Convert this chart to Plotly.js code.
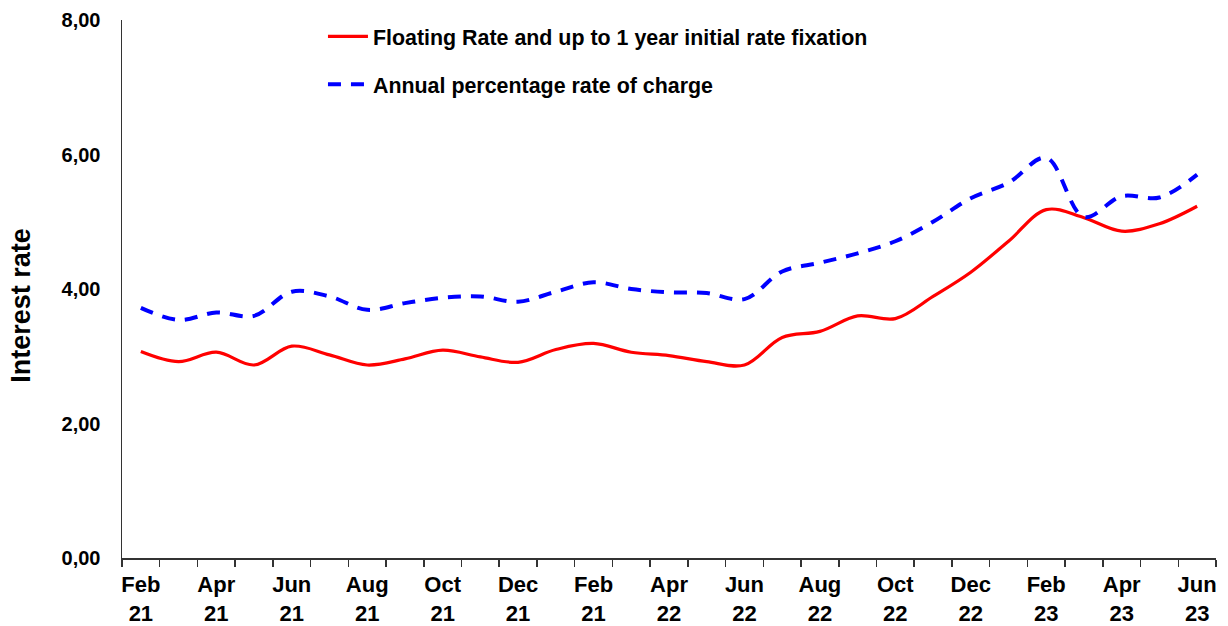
<!DOCTYPE html>
<html>
<head>
<meta charset="utf-8">
<script src="https://cdn.plot.ly/plotly-3.0.1.min.js"></script>
<style>html,body{margin:0;padding:0;background:#fff;}#chart{width:1228px;height:626px;}</style>
</head>
<body>
<div id="chart"></div>
<script>
const months = ["Feb 21","Mar 21","Apr 21","May 21","Jun 21","Jul 21","Aug 21","Sep 21","Oct 21","Nov 21","Dec 21","Jan 22","Feb 22","Mar 22","Apr 22","May 22","Jun 22","Jul 22","Aug 22","Sep 22","Oct 22","Nov 22","Dec 22","Jan 23","Feb 23","Mar 23","Apr 23","May 23","Jun 23"];
const floatingRate = [3.07,2.92,3.06,2.87,3.15,3.02,2.87,2.96,3.09,2.99,2.91,3.10,3.19,3.06,3.01,2.92,2.87,3.28,3.37,3.60,3.56,3.89,4.25,4.71,5.18,5.06,4.86,4.97,5.23];
const aprc = [3.72,3.54,3.65,3.60,3.96,3.89,3.69,3.79,3.87,3.89,3.81,3.96,4.10,4.00,3.95,3.94,3.85,4.26,4.39,4.53,4.71,5.00,5.35,5.58,5.95,5.07,5.38,5.36,5.70];
const tickLabels = ["Feb<br>21","Apr<br>21","Jun<br>21","Aug<br>21","Oct<br>21","Dec<br>21","Feb<br>21","Apr<br>22","Jun<br>22","Aug<br>22","Oct<br>22","Dec<br>22","Feb<br>23","Apr<br>23","Jun<br>23"];
const yTicks = [0,2,4,6,8];
const yTickLabels = ["0,00","2,00","4,00","6,00","8,00"];

const xIdx = months.map((m,i)=>i);
const tickVals = tickLabels.map((t,i)=>i*2);
const FONT = "Liberation Sans, Arial, sans-serif";

const traces = [
  {x:xIdx, y:floatingRate, type:"scatter", mode:"lines", name:"Floating Rate and up to 1 year initial rate fixation",
   line:{color:"#FF0000", width:3.2, shape:"spline", smoothing:1}, legendgroup:"a", hoverinfo:"y"},
  {x:xIdx, y:aprc, type:"scatter", mode:"lines", name:"Annual percentage rate of charge",
   line:{color:"#0000FF", width:4, dash:"13px,10px", shape:"spline", smoothing:1}, legendgroup:"b", hoverinfo:"y"}
];

const layout = {
  width:1228, height:626,
  margin:{l:122, r:12, t:20, b:68},
  paper_bgcolor:"#fff", plot_bgcolor:"#fff",
  font:{family:FONT, color:"#000"},
  showlegend:true,
  legend:{x:0.1837, y:1.0075, xanchor:"left", yanchor:"top", bgcolor:"rgba(0,0,0,0)",
          font:{family:FONT, size:21.4, color:"#000", weight:"bold"}, tracegroupgap:17, itemwidth:40},
  xaxis:{range:[-0.5,28.5], tickmode:"array", tickvals:tickVals, ticktext:tickLabels,
         ticks:"", showgrid:false, zeroline:false, showline:true, linecolor:"#333", linewidth:1.5,
         tickfont:{family:FONT, size:22, color:"#000", weight:"bold"}, ticklabelstandoff:6,
         minor:{ticks:"outside", tick0:-0.5, dtick:1, ticklen:7, tickcolor:"#333", tickwidth:1.5, showgrid:false}},
  yaxis:{range:[0,8], tickmode:"array", tickvals:yTicks, ticktext:yTickLabels,
         ticks:"", showgrid:false, zeroline:false, showline:true, linecolor:"#333", linewidth:1.5,
         tickfont:{family:FONT, size:20, color:"#000", weight:"bold"}, ticklabelstandoff:16},
  annotations:[{text:"Interest rate", textangle:-90, xref:"paper", yref:"paper",
     x:-0.092, y:(558-305.7)/537.5, xanchor:"center", yanchor:"middle", showarrow:false,
     font:{family:FONT, size:27, color:"#000", weight:"bold"}}]
};

Plotly.newPlot("chart", traces, layout, {displayModeBar:false, staticPlot:true});
</script>
</body>
</html>
